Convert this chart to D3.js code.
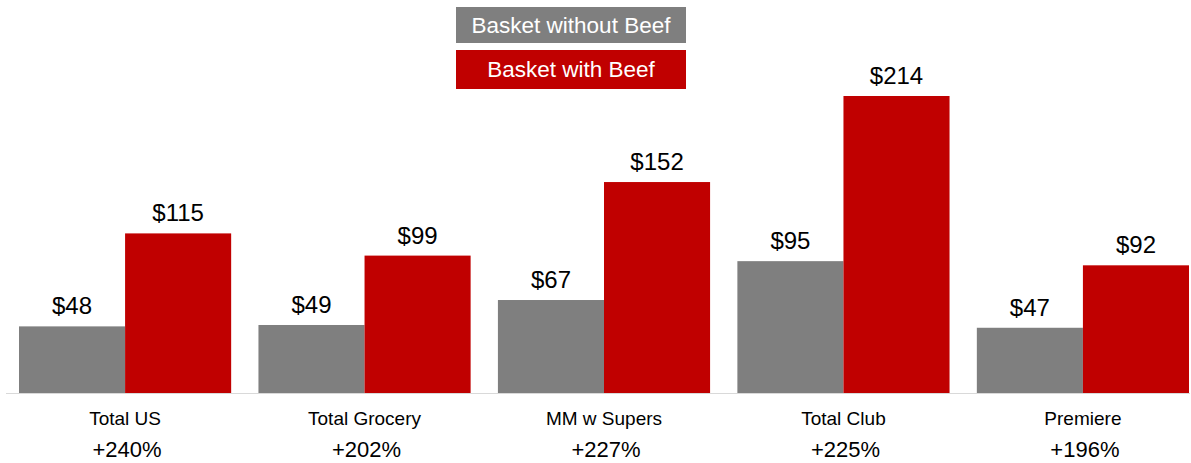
<!DOCTYPE html>
<html>
<head>
<meta charset="utf-8">
<script src="https://cdn.jsdelivr.net/npm/d3@7"></script>
<style>
  body { margin: 0; background: #fff; }
  text { font-family: "Liberation Sans", Arial, sans-serif; }
</style>
</head>
<body>
<div id="chart"></div>
<script>
// chart data
var categories = ["Total US", "Total Grocery", "MM w Supers", "Total Club", "Premiere"];
var withoutBeef = [48, 49, 67, 95, 47];
var withBeef = [115, 99, 152, 214, 92];
var pctLabels = ["+240%", "+202%", "+227%", "+225%", "+196%"];
var seriesNames = ["Basket without Beef", "Basket with Beef"];

var width = 1191, height = 463;
var baseY = 393;
var colors = ["#7f7f7f", "#c00000"];

var svg = d3.select("#chart").append("svg")
	.attr("width", width)
	.attr("height", height);

// x scales
var x = d3.scaleBand()
	.domain(categories)
	.range([19, 1189])
	.paddingInner(0.114)
	.paddingOuter(0);

var xSub = d3.scaleBand()
	.domain([0, 1])
	.range([0, x.bandwidth()]);

// y scale
var y = d3.scaleLinear()
	.domain([0, 214])
	.range([baseY, 96]);

var rows = categories.map(function(c, i) {
	return {cat: c, vals: [withoutBeef[i], withBeef[i]], pct: pctLabels[i]};
});

// baseline
svg.append("line")
	.attr("x1", 6).attr("x2", 1190)
	.attr("y1", baseY + 0.5).attr("y2", baseY + 0.5)
	.attr("stroke", "#d9d9d9")
	.attr("stroke-width", 1);

var groups = svg.selectAll(".grp")
	.data(rows)
	.enter().append("g")
		.attr("class", "grp")
		.attr("transform", d => "translate(" + x(d.cat) + ",0)");

groups.selectAll("rect")
	.data(d => d.vals)
	.enter().append("rect")
		.attr("x", (d, i) => xSub(i))
		.attr("width", xSub.bandwidth())
		.attr("y", d => y(d))
		.attr("height", d => baseY - y(d))
		.attr("fill", (d, i) => colors[i]);

groups.selectAll(".val")
	.data(d => d.vals)
	.enter().append("text")
		.attr("class", "val")
		.attr("x", (d, i) => xSub(i) + xSub.bandwidth() / 2)
		.attr("y", d => y(d) - 12)
		.attr("text-anchor", "middle")
		.attr("font-size", 24)
		.attr("fill", "#000")
		.text(d => "$" + d);

// category labels
groups.append("text")
	.attr("x", x.bandwidth() / 2)
	.attr("y", 425)
	.attr("text-anchor", "middle")
	.attr("font-size", 19)
	.attr("fill", "#000")
	.text(d => d.cat);

groups.append("text")
	.attr("x", x.bandwidth() / 2 + 2)
	.attr("y", 457)
	.attr("text-anchor", "middle")
	.attr("font-size", 22)
	.attr("fill", "#000")
	.text(d => d.pct);

// legend
var legend = svg.selectAll(".leg")
	.data(seriesNames)
	.enter().append("g")
		.attr("class", "leg")
		.attr("transform", (d, i) => "translate(456," + (i === 0 ? 7 : 50) + ")");

legend.append("rect")
	.attr("width", 230)
	.attr("height", (d, i) => i === 0 ? 36 : 39)
	.attr("fill", (d, i) => colors[i]);

legend.append("text")
	.attr("x", 115)
	.attr("y", (d, i) => i === 0 ? 26 : 27)
	.attr("text-anchor", "middle")
	.attr("font-size", 22.5)
	.attr("fill", "#fff")
	.text(d => d);
</script>
</body>
</html>
